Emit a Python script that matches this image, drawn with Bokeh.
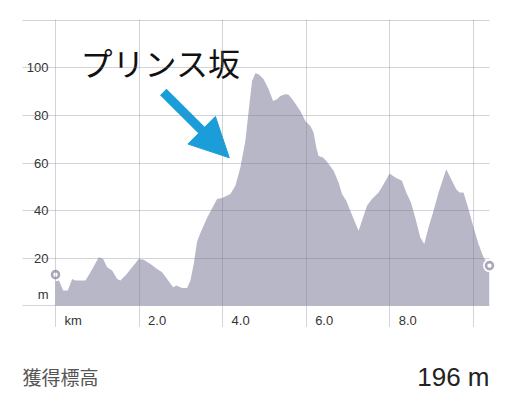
from bokeh.plotting import figure
from bokeh.layouts import column
from bokeh.models import Range1d, FixedTicker, Label, Arrow, NormalHead, Grid
from bokeh.core.properties import value
from bokeh.embed import file_html
from bokeh.resources import INLINE

# --- data -----------------------------------------------------------------
dist_km = [0.000, 0.096, 0.184, 0.294, 0.400, 0.478, 0.718, 0.837, 1.036, 1.141,
           1.237, 1.356, 1.476, 1.555, 1.675, 1.835, 1.993, 2.112, 2.273, 2.433,
           2.553, 2.672, 2.816, 2.895, 3.031, 3.151, 3.230, 3.309, 3.390, 3.469,
           3.629, 3.868, 3.988, 4.187, 4.306, 4.426, 4.545, 4.624, 4.706, 4.785,
           4.864, 4.983, 5.103, 5.208, 5.304, 5.383, 5.502, 5.581, 5.701, 5.861,
           5.981, 6.100, 6.179, 6.244, 6.299, 6.404, 6.500, 6.658, 6.778, 6.859,
           6.962, 7.057, 7.256, 7.337, 7.457, 7.577, 7.734, 7.854, 7.998, 8.134,
           8.294, 8.397, 8.510, 8.612, 8.732, 8.828, 8.931, 9.050, 9.170, 9.354,
           9.474, 9.593, 9.672, 9.768, 9.887, 10.007, 10.127, 10.246, 10.390]
elev_m = [13.0, 10.0, 6.3, 6.3, 11.2, 10.5, 10.5, 14.0, 20.3, 19.6,
          16.1, 14.7, 11.2, 10.5, 12.6, 16.1, 19.6, 19.3, 17.5, 15.4,
          14.0, 11.2, 7.7, 8.4, 7.4, 7.4, 10.5, 17.5, 27.0, 30.5,
          37.0, 44.8, 45.3, 46.9, 50.4, 58.1, 69.3, 81.9, 94.5, 97.8,
          97.4, 95.3, 91.0, 86.1, 86.8, 88.2, 88.9, 88.7, 86.1, 81.9,
          77.7, 75.6, 72.8, 66.5, 63.0, 62.3, 60.5, 56.7, 51.8, 46.9,
          44.1, 39.9, 31.5, 35.7, 42.0, 44.8, 47.6, 51.1, 55.6, 53.9,
          52.5, 47.6, 43.4, 37.1, 28.7, 25.9, 32.9, 39.9, 47.6, 57.4,
          53.2, 49.0, 47.6, 47.6, 40.6, 32.9, 25.9, 20.3, 16.8]

x_grid_vals = [0, 2, 4, 6, 8, 10]
x_tick_vals = [0, 2, 4, 6, 8]
x_tick_labels = ["km", "2.0", "4.0", "6.0", "8.0"]
y_grid_vals = [0, 20, 40, 60, 80, 100, 120]
y_tick_vals = [20, 40, 60, 80, 100]
y_tick_labels = ["20", "40", "60", "80", "100"]
unit_label = "m"
unit_pos = 4.6
title_text = "プリンス坂"
gain_label = "獲得標高"
gain_value = "196 m"

# --- layout constants ------------------------------------------------------
X_START = -0.79
Y_START, Y_END = -9.26, 120.42
XLABEL_Y = -6.3

AREA = "#b8b7c8"
GRID = "#77768a"
BLUE = "#1b9dd9"
FONT = value("Liberation Sans")

p = figure(width=504, height=327,
           x_range=Range1d(X_START, dist_km[-1]),
           y_range=Range1d(Y_START, Y_END),
           x_axis_type=None, y_axis_type=None,
           output_backend="svg", toolbar_location=None,
           min_border_left=22, min_border_right=15,
           min_border_top=19, min_border_bottom=0)
p.outline_line_color = None
p.background_fill_color = "white"
p.border_fill_color = "white"

# area
p.varea(x=dist_km, y1=0, y2=elev_m, fill_color=AREA, fill_alpha=1.0)

# grids drawn over the area
xg = Grid(dimension=0, ticker=FixedTicker(ticks=x_grid_vals + [dist_km[-1]]),
          grid_line_color=GRID, grid_line_alpha=0.32, level="overlay")
yg = Grid(dimension=1, ticker=FixedTicker(ticks=y_grid_vals),
          grid_line_color=GRID, grid_line_alpha=0.32, level="overlay")
p.add_layout(xg)
p.add_layout(yg)

# tick labels
p.text(x=x_tick_vals, y=[XLABEL_Y] * len(x_tick_vals), text=x_tick_labels,
       x_offset=9, text_baseline="middle", text_align="left",
       text_font=FONT, text_font_size="13px", text_color="#333333")
p.text(x=[0] * (len(y_tick_vals) + 1), y=[unit_pos] + y_tick_vals,
       text=[unit_label] + y_tick_labels,
       x_offset=-7, text_baseline="middle", text_align="right",
       text_font=FONT, text_font_size="13px", text_color="#333333")

# start / end markers
ends_x = [dist_km[0], dist_km[-1]]
ends_y = [elev_m[0], elev_m[-1]]
p.scatter(x=ends_x, y=ends_y, size=13, fill_color="white", line_color=None,
          level="overlay")
p.scatter(x=ends_x, y=ends_y, size=7, fill_color="white", line_color="#a9a8b8",
          line_width=2.6, level="overlay")

# annotation
p.add_layout(Label(x=0.60, y=102.5, text=title_text, text_baseline="middle",
                   text_font="Noto Sans CJK JP", text_font_size="32px",
                   text_color="#111111"))
p.add_layout(Arrow(x_start=2.58, y_start=89.9, x_end=4.16, y_end=62.2,
                   line_color=BLUE, line_width=9,
                   end=NormalHead(size=39, fill_color=BLUE, line_color=BLUE,
                                  line_width=1)))

# footer (separate strip below the chart, frame aligned with the chart)
FOOT_H = 78
FOOT_Y = 29
f = figure(width=504, height=FOOT_H,
           x_range=Range1d(X_START, dist_km[-1]), y_range=Range1d(0, FOOT_H),
           x_axis_type=None, y_axis_type=None,
           output_backend="svg", toolbar_location=None,
           min_border_left=22, min_border_right=15,
           min_border_top=0, min_border_bottom=0)
f.outline_line_color = None
f.text(x=[X_START], y=[FOOT_Y], text=[gain_label], text_baseline="middle",
       text_align="left", text_font=value("Noto Sans CJK JP"),
       text_font_size="19px", text_color="#555555")
f.text(x=[dist_km[-1]], y=[FOOT_Y], text=[gain_value], text_baseline="middle",
       text_align="right", text_font=FONT, text_font_size="26px",
       text_color="#222222")

layout = column(p, f, spacing=0)
open("out.html", "w").write(file_html(layout, INLINE))
